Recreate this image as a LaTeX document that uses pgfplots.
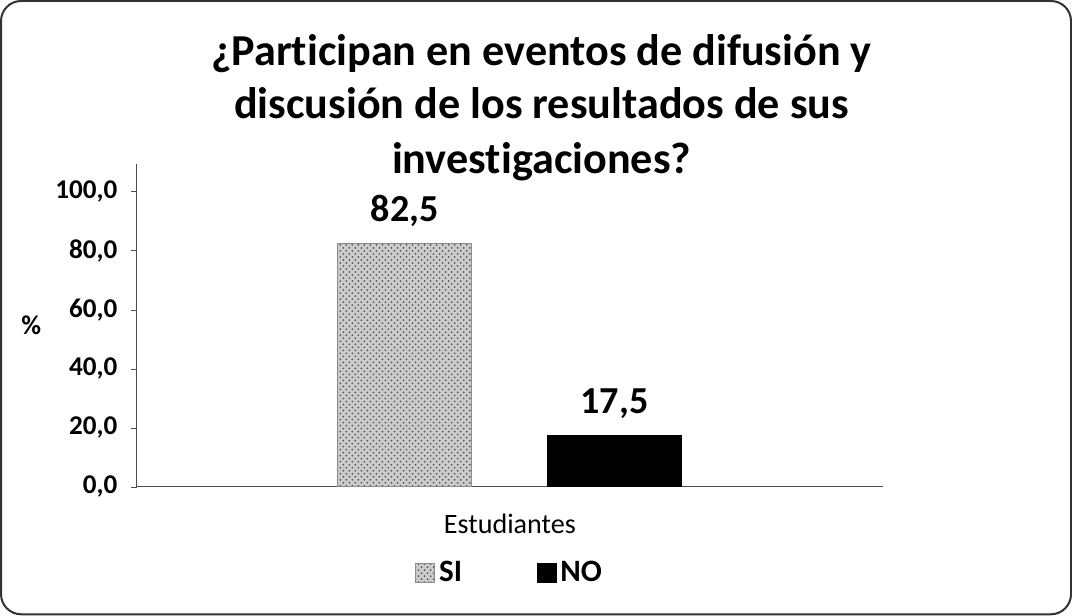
\documentclass[border=0pt]{standalone}
\usepackage{fontspec}
\setmainfont{Carlito}[Ligatures=NoCommon]
\usepackage{pgfplots}
\pgfplotsset{compat=1.18}
\usetikzlibrary{patterns}
\begin{document}
\begin{tikzpicture}
\draw[line width=1pt, black!80, rounded corners=10pt] (1.5pt,1.5pt) rectangle (534.5pt,307pt);
\begin{scope}[every node/.style={anchor=base, font=\bfseries\fontsize{22}{27}\selectfont, inner sep=0pt}]
\node at (270.75pt,275pt) {¿Participan en eventos de difusión y};
\node at (270.75pt,248.5pt) {discusión de los resultados de sus};
\node at (270.75pt,221pt) {investigaciones?};
\end{scope}
\begin{axis}[
  at={(69pt,65pt)}, anchor=south west,
  scale only axis, width=372pt, height=161pt,
  xmin=0, xmax=1, ymin=0, ymax=109.5,
  axis lines*=left,
  axis line style={black!70, line width=0.6pt},
  xtick=\empty,
  ytick={0,20,40,60,80,100},
  tick style={black!70},
  major tick length=2.5pt,
  tick align=outside,
  /pgf/number format/.cd, assume math mode=true, use comma, fixed, fixed zerofill, precision=1,
  /pgfplots/.cd,
  yticklabel style={font=\bfseries\fontsize{13.5}{15}\selectfont, xshift=-3.5pt},
  ylabel={\%},
  ylabel style={rotate=-90, at={(axis description cs:-0.141,0.5)}, anchor=center, font=\bfseries\fontsize{13.5}{15}\selectfont},
  xlabel={Estudiantes},
  xlabel style={at={(axis description cs:0.5,-0.143)}, anchor=base, inner sep=0pt, font=\fontsize{14}{16}\selectfont},
  ybar, bar width=0.179, bar shift=0pt,
  nodes near coords,
  nodes near coords style={font=\bfseries\fontsize{19}{21}\selectfont, anchor=base, inner sep=0pt, yshift=11pt},
  legend columns=2,
  legend style={at={(axis description cs:0.501,-0.2655)}, anchor=center, draw=none, fill=none,
    font=\bfseries\fontsize{15.5}{17}\selectfont, inner sep=0pt,
    /tikz/every even column/.append style={column sep=35pt}},
  legend image code/.code={\draw[#1] (0pt,-4.75pt) rectangle (9.5pt,4.75pt);},
]
\addplot[draw=black!45, fill=black!20, postaction={pattern=crosshatch dots, pattern color=black!65}] coordinates {(0.359,82.5)};
\addlegendentry{SI}
\addplot[draw=black, fill=black] coordinates {(0.640,17.5)};
\addlegendentry{NO}
\end{axis}
\end{tikzpicture}
\end{document}
